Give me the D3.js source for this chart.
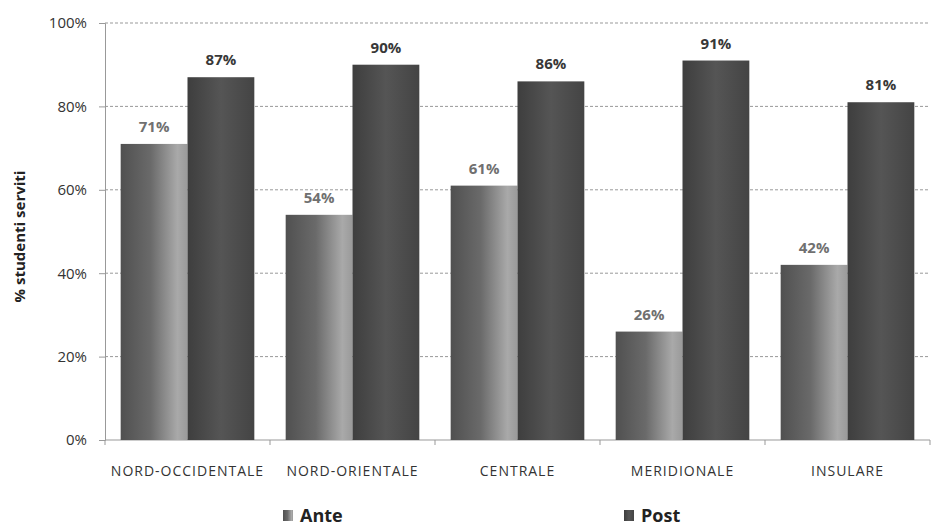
<!DOCTYPE html>
<html>
<head>
<meta charset="utf-8">
<script src="https://cdn.jsdelivr.net/npm/d3@7"></script>
<style>
  html, body { margin: 0; padding: 0; background: #fff; overflow: hidden; }
  #chart { width: 931px; height: 526px; }
  svg { display: block; }
  text { font-family: "Open Sans", sans-serif; }
</style>
</head>
<body>
<div id="chart"></div>
<script>
const categories = ['NORD-OCCIDENTALE', 'NORD-ORIENTALE', 'CENTRALE', 'MERIDIONALE', 'INSULARE']
const ante = [71, 54, 61, 26, 42]
const post = [87, 90, 86, 91, 81]
const seriesNames = ['Ante', 'Post']
const yTicks = [0, 20, 40, 60, 80, 100]
const yAxisLabel = '% studenti serviti'

const width = 931, height = 526
const margin = {top: 23, right: 1, bottom: 86, left: 105}
const innerWidth = width - margin.left - margin.right
const innerHeight = height - margin.top - margin.bottom

const svg = d3.select('#chart').append('svg')
  .attr('width', width)
  .attr('height', height)

// gradients: Ante goes dark -> light, Post stays dark
const defs = svg.append('defs')
const gA = defs.append('linearGradient').attr('id', 'gradAnte')
gA.append('stop').attr('offset', '0%').attr('stop-color', '#505050')
gA.append('stop').attr('offset', '45%').attr('stop-color', '#6a6a6a')
gA.append('stop').attr('offset', '85%').attr('stop-color', '#a9a9a9')
gA.append('stop').attr('offset', '100%').attr('stop-color', '#9a9a9a')
const gP = defs.append('linearGradient').attr('id', 'gradPost')
gP.append('stop').attr('offset', '0%').attr('stop-color', '#3e3e3e')
gP.append('stop').attr('offset', '50%').attr('stop-color', '#555555')
gP.append('stop').attr('offset', '100%').attr('stop-color', '#444444')

const g = svg.append('g')
  .attr('transform', `translate(${margin.left},${margin.top})`)

const xScale = d3.scaleBand()
  .domain(categories)
  .range([0, innerWidth])
  .paddingInner(0.19)
  .paddingOuter(0.095)

const xSub = d3.scaleBand()
  .domain(seriesNames)
  .range([0, xScale.bandwidth()])

const yScale = d3.scaleLinear()
  .domain([0, 100])
  .range([innerHeight, 0])

// grid
g.append('g').selectAll('line').data(yTicks.filter(d => d > 0))
  .enter().append('line')
  .attr('x1', 0).attr('x2', innerWidth)
  .attr('y1', d => yScale(d)).attr('y2', d => yScale(d))
  .attr('stroke', '#999')
  .attr('stroke-width', 1)
  .attr('stroke-dasharray', '3,2')

// y axis
const yAxis = d3.axisLeft(yScale)
  .tickValues(yTicks)
  .tickFormat(d => d + '%')
  .tickSize(6)
  .tickPadding(12)
const yAxisG = g.append('g').call(yAxis)
yAxisG.select('.domain').attr('stroke', '#999')
yAxisG.selectAll('.tick line').attr('stroke', '#999')
yAxisG.selectAll('.tick text')
  .attr('fill', '#333')
  .style('font-size', '15px')
  .style('font-family', '"Open Sans", sans-serif')

svg.append('text')
  .attr('transform', `translate(25,${margin.top + innerHeight / 2 + 5}) rotate(-90)`)
  .attr('text-anchor', 'middle')
  .attr('fill', '#222')
  .style('font-size', '15px')
  .style('font-weight', 'bold')
  .text(yAxisLabel)

// x axis
g.append('line')
  .attr('x1', 0).attr('x2', innerWidth)
  .attr('y1', innerHeight).attr('y2', innerHeight)
  .attr('stroke', '#999')
g.append('g').selectAll('line').data(d3.range(categories.length + 1))
  .enter().append('line')
  .attr('x1', d => d * innerWidth / categories.length)
  .attr('x2', d => d * innerWidth / categories.length)
  .attr('y1', innerHeight).attr('y2', innerHeight + 5)
  .attr('stroke', '#999')

g.append('g').selectAll('text').data(categories)
  .enter().append('text')
  .attr('x', d => xScale(d) + xScale.bandwidth() / 2)
  .attr('y', innerHeight + 36)
  .attr('text-anchor', 'middle')
  .attr('fill', '#333')
  .style('font-size', '14px')
  .style('letter-spacing', '1px')
  .text(d => d)

// bars
const cells = []
categories.forEach((c, i) => {
  cells.push({cat: c, key: 'Ante', v: ante[i]})
  cells.push({cat: c, key: 'Post', v: post[i]})
})
const barX = d => xScale(d.cat) + xSub(d.key)

g.append('g').selectAll('rect').data(cells)
  .enter().append('rect')
  .attr('x', barX)
  .attr('y', d => yScale(d.v))
  .attr('width', xSub.bandwidth())
  .attr('height', d => innerHeight - yScale(d.v))
  .attr('fill', d => d.key === 'Ante' ? 'url(#gradAnte)' : 'url(#gradPost)')

g.append('g').selectAll('text').data(cells)
  .enter().append('text')
  .attr('x', d => barX(d) + xSub.bandwidth() / 2)
  .attr('y', d => yScale(d.v) - 12)
  .attr('text-anchor', 'middle')
  .attr('fill', d => d.key === 'Ante' ? '#707070' : '#383838')
  .style('font-size', '15px')
  .style('font-weight', 'bold')
  .text(d => d.v + '%')

// legend
const legendX = [283, 624]
const legend = svg.append('g').selectAll('g').data(seriesNames)
  .enter().append('g')
  .attr('transform', (d, i) => `translate(${legendX[i]},510)`)
legend.append('rect')
  .attr('width', 10).attr('height', 11)
  .attr('fill', d => d === 'Ante' ? 'url(#gradAnte)' : 'url(#gradPost)')
legend.append('text')
  .attr('x', 17).attr('y', 12)
  .attr('fill', '#222')
  .style('font-size', '18px')
  .style('font-weight', 'bold')
  .text(d => d)
</script>
</body>
</html>
